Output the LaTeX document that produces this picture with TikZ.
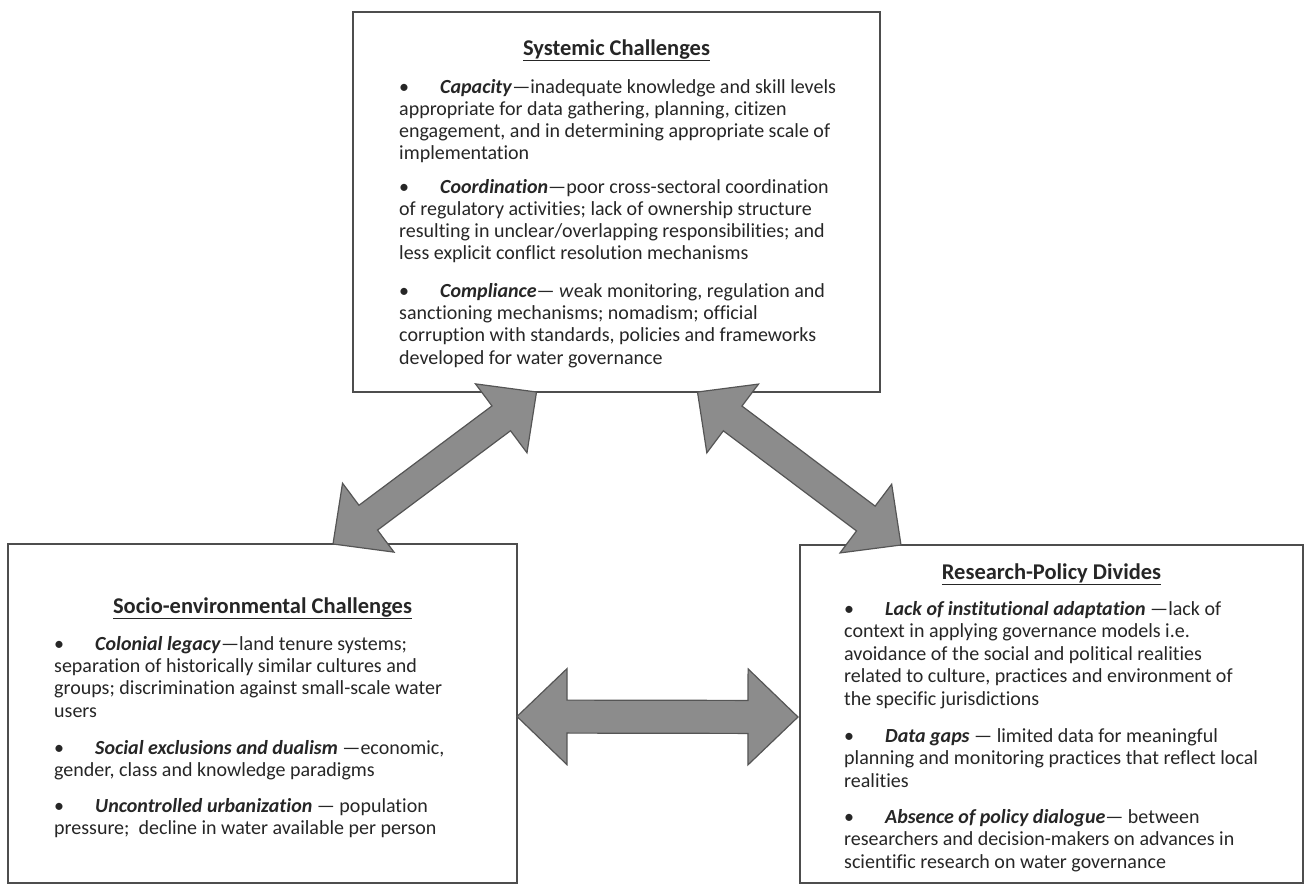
\documentclass[tikz,border=0pt]{standalone}
\usepackage{fontspec}
\setmainfont{Carlito}[Ligatures=NoCommon]
\usetikzlibrary{calc}

\definecolor{ink}{HTML}{262626}
\definecolor{frame}{HTML}{4D4D4D}
\definecolor{arrowfill}{HTML}{8C8C8C}
\definecolor{arrowline}{HTML}{555555}

\tikzset{
  box/.style={draw=frame, line width=2.4pt, fill=white, inner sep=0pt, outer sep=0pt, anchor=north west},
  txt/.style={inner sep=0pt, anchor=base west, text=ink, font=\fontsize{20}{23}\selectfont},
  head/.style={inner sep=0pt, anchor=base, text=ink, font=\fontsize{22.5}{26}\selectfont\bfseries},
  fatarrow/.style={fill=arrowfill, draw=arrowline, line width=1.2pt, line join=miter},
}

% bullet followed by a tab stop
\newcommand\bul{\makebox[41pt][l]{•}}
\newcommand\term[1]{\textbf{\textit{#1}}}

% one paragraph, set line by line: name, x, first baseline, line skip, lines
\newcommand\para[5]{%
  \foreach \lineText [count=\k from 0] in {#5}
    \node[txt] (#1-\k) at (#2, {#3+\k*#4}) {\lineText};}

% block double arrow between two points:
% style, end A, end B, head length, head half width, shaft half width
\newcommand\dblarrow[6]{%
  \pgfmathsetmacro\dW{veclen(#4,#5)}%
  \pgfmathsetmacro\aW{atan2(#5,#4)}%
  \pgfmathsetmacro\dS{veclen(#4,#6)}%
  \pgfmathsetmacro\aS{atan2(#6,#4)}%
  \draw[#1] (#2) -- ($(#2)!\dW pt!\aW:(#3)$) -- ($(#2)!\dS pt!\aS:(#3)$)
     -- ($(#3)!\dS pt!-\aS:(#2)$) -- ($(#3)!\dW pt!-\aW:(#2)$) -- (#3)
     -- ($(#3)!\dW pt!\aW:(#2)$) -- ($(#3)!\dS pt!\aS:(#2)$)
     -- ($(#2)!\dS pt!-\aS:(#3)$) -- ($(#2)!\dW pt!-\aW:(#3)$) -- cycle;}

\begin{document}
\begin{tikzpicture}[x=1pt, y=-1pt]
\useasboundingbox[fill=white] (0,0) rectangle (1306,886);

% the three boxes
\node[box, minimum width=527pt, minimum height=380pt] (sys) at (353,12) {};
\node[box, minimum width=509pt, minimum height=339pt] (soc) at (8,544) {};
\node[box, minimum width=503pt, minimum height=338pt] (res) at (800,545) {};

% Systemic Challenges
\node[head] (sys-title) at (616.5,55) {\underline{Systemic Challenges}};
\para{sysA}{399}{93}{22.2}{
  {\bul\term{Capacity}—inadequate knowledge and skill levels},
  {appropriate for data gathering, planning, citizen},
  {engagement, and in determining appropriate scale of},
  {implementation}}
\para{sysB}{399}{193}{22.2}{
  {\bul\term{Coordination}—poor cross-sectoral coordination},
  {of regulatory activities; lack of ownership structure},
  {resulting in unclear/overlapping responsibilities; and},
  {less explicit conflict resolution mechanisms}}
\para{sysC}{399}{297}{22.4}{
  {\bul\term{Compliance}— \textit{w}eak monitoring, regulation and},
  {sanctioning mechanisms; nomadism; official},
  {corruption with standards, policies and frameworks},
  {developed for water governance}}

% Socio-environmental Challenges
\node[head] (soc-title) at (262.5,613) {\underline{Socio-environmental Challenges}};
\para{socA}{54}{650}{22.4}{
  {\bul\term{Colonial legacy}—land tenure systems;},
  {separation of historically similar cultures and},
  {groups; discrimination against small-scale water},
  {users}}
\para{socB}{54}{754}{22.6}{
  {\bul\term{Social exclusions and dualism} —economic,},
  {gender, class and knowledge paradigms}}
\para{socC}{54}{812}{22.6}{
  {\bul\term{Uncontrolled urbanization} — population},
  {pressure;\ \ decline in water available per person}}

% Research-Policy Divides
\node[head] (res-title) at (1051.5,579) {\underline{Research-Policy Divides}};
\para{resA}{844}{615}{22.5}{
  {\bul\term{Lack of institutional adaptation} —lack of},
  {context in applying governance models i.e.},
  {avoidance of the social and political realities},
  {related to culture, practices and environment of},
  {the specific jurisdictions}}
\para{resB}{844}{742}{22.8}{
  {\bul\term{Data gaps} — limited data for meaningful},
  {planning and monitoring practices that reflect local},
  {realities}}
\para{resC}{844}{823}{22.8}{
  {\bul\term{Absence of policy dialogue}— between},
  {researchers and decision-makers on advances in},
  {scientific research on water governance}}

% arrow ends on the box borders
\coordinate (sys-l) at ([xshift=-80pt]sys.south);
\coordinate (sys-r) at ([xshift=81pt]sys.south);
\coordinate (soc-t) at ([xshift=-184pt]soc.north east);
\coordinate (res-t) at ([xshift=101pt]res.north west);
\coordinate (soc-r) at ([yshift=-3pt]soc.east);
\coordinate (res-l) at ([xshift=-2pt,yshift=-3pt]res.west);

% block arrows linking the boxes
\dblarrow{fatarrow}{soc-t}{sys-l}{44}{43}{15.5}
\dblarrow{fatarrow}{res-t}{sys-r}{44}{43}{15.5}
\dblarrow{fatarrow}{soc-r}{res-l}{50}{48}{16.5}
\end{tikzpicture}
\end{document}
